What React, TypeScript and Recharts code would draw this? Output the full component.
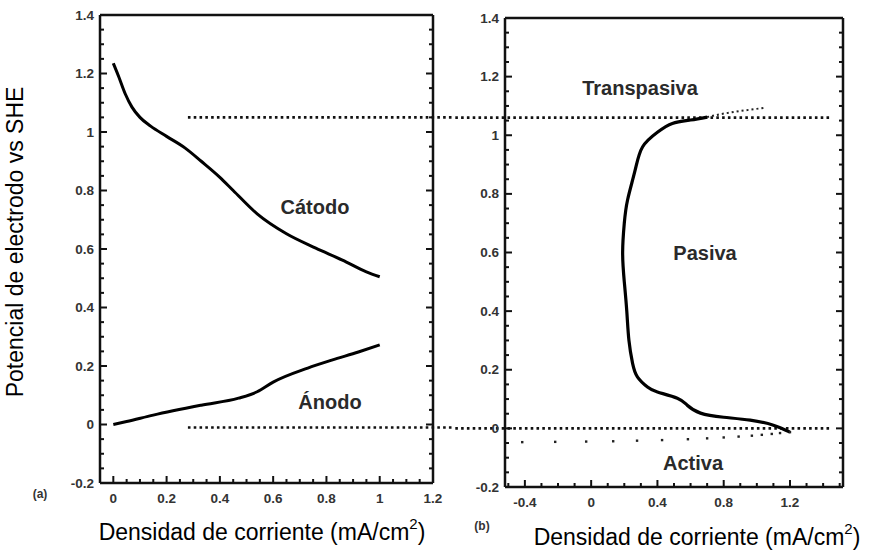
import React from "react";
import {
  ComposedChart,
  Line,
  Scatter,
  XAxis,
  YAxis,
  ReferenceLine,
} from "recharts";

// (a) cathodic and anodic branches, current density (mA/cm2) vs potential (V)
const cathodeI = [0, 0.02, 0.045, 0.07, 0.1, 0.14, 0.2, 0.27, 0.33, 0.4, 0.45, 0.54, 0.65, 0.76, 0.86, 0.95, 1.0];
const cathodeE = [1.235, 1.19, 1.13, 1.085, 1.05, 1.02, 0.985, 0.945, 0.9, 0.845, 0.8, 0.72, 0.652, 0.603, 0.562, 0.522, 0.505];
const anodeI = [0, 0.05, 0.15, 0.33, 0.47, 0.54, 0.6, 0.73, 0.82, 0.92, 1.0];
const anodeE = [0, 0.01, 0.032, 0.066, 0.09, 0.112, 0.145, 0.193, 0.22, 0.248, 0.272];

// (b) anodic scan through active, passive and transpassive regions
const passiveI = [1.2, 1.1, 0.96, 0.8, 0.66, 0.58, 0.52, 0.4, 0.34, 0.28, 0.25, 0.228, 0.215, 0.2, 0.19, 0.2, 0.22, 0.265, 0.31, 0.4, 0.49, 0.6, 0.7];
const passiveE = [-0.013, 0.011, 0.028, 0.038, 0.052, 0.079, 0.103, 0.124, 0.141, 0.175, 0.222, 0.3, 0.4, 0.5, 0.6, 0.7, 0.78, 0.88, 0.96, 1.01, 1.04, 1.052, 1.062];
const transI = [0.7, 0.78, 0.9, 1.04];
const transE = [1.062, 1.072, 1.083, 1.093];
const returnI = [-0.416, -0.217, -0.03, 0.133, 0.277, 0.428, 0.584, 0.7, 0.8, 0.89, 0.97, 1.03, 1.09, 1.14, 1.2];
const returnE = [-0.047, -0.046, -0.045, -0.044, -0.042, -0.04, -0.037, -0.034, -0.031, -0.028, -0.025, -0.022, -0.019, -0.016, -0.013];

// dotted boundaries between regions
const passBoundLeft = [1.05, -0.01];
const passBoundRight = [1.06, 0];

const leftXMajor = [0, 0.2, 0.4, 0.6, 0.8, 1, 1.2];
const leftYMajor = [-0.2, 0, 0.2, 0.4, 0.6, 0.8, 1, 1.2, 1.4];
const rightXMajor = [-0.4, 0, 0.4, 0.8, 1.2];
const rightYMajor = [-0.2, 0, 0.2, 0.4, 0.6, 0.8, 1, 1.2, 1.4];

const zip = (xs: number[], ys: number[]) => xs.map((i, k) => ({ i, e: ys[k] }));

// minor ticks between (and just beyond) the labelled ones
const subdivide = (majors: number[], parts: number, lo: number, hi: number) => {
  const step = (majors[1] - majors[0]) / parts;
  const out: number[] = [];
  for (let v = majors[0] - step * 20; v <= hi + 1e-9; v += step) {
    if (v >= lo - 1e-9) out.push(Math.round(v * 1000) / 1000);
  }
  return out;
};

const near = (v: number, list: number[]) => list.some((m) => Math.abs(m - v) < 1e-6);
const fmt = (v: number) => String(Math.round(v * 10) / 10);

const FONT = "'Liberation Sans', Arial, sans-serif";
const INK = "#111";

// inward tick marks; only the bottom and left axes carry labels
function makeTick(side: "bottom" | "top" | "left" | "right", majors: number[]) {
  return (props: any) => {
    const { x, y, payload } = props;
    const major = near(payload.value, majors);
    const len = major ? 7 : 4;
    let d = "";
    let label = null;
    if (side === "bottom") {
      d = `M${x},${y}V${y - len}`;
      if (major)
        label = (
          <text x={x} y={y + 15} textAnchor="middle" dominantBaseline="central" fontSize={13.5} fontWeight="bold" fill="#333" fontFamily={FONT}>
            {fmt(payload.value)}
          </text>
        );
    } else if (side === "top") {
      d = `M${x},${y}V${y + len}`;
    } else if (side === "left") {
      d = `M${x},${y}H${x + len}`;
      if (major)
        label = (
          <text x={x - 6} y={y} textAnchor="end" dominantBaseline="central" fontSize={13.5} fontWeight="bold" fill="#333" fontFamily={FONT}>
            {fmt(payload.value)}
          </text>
        );
    } else {
      d = `M${x},${y}H${x - len}`;
    }
    return (
      <g>
        <path d={d} stroke={INK} strokeWidth={2} fill="none" />
        {label}
      </g>
    );
  };
}

const dotted = { stroke: INK, strokeWidth: 2.6, strokeDasharray: "2.6 3.2" };
const frame = { stroke: INK, strokeWidth: 2.5, ifOverflow: "visible" as const };

function LeftPanel() {
  const xDom: [number, number] = [-0.05, 1.2];
  const yDom: [number, number] = [-0.2, 1.4];
  const xTicks = subdivide(leftXMajor, 4, 0, 1.2);
  const yTicks = subdivide(leftYMajor, 4, -0.2, 1.4);
  return (
    <ComposedChart width={470} height={554} margin={{ top: 14, right: 36, bottom: 70, left: 0 }}>
      <XAxis dataKey="i" type="number" domain={xDom} allowDataOverflow ticks={xTicks} interval={0}
        tickSize={0} tickMargin={0} height={1} axisLine={false} tick={makeTick("bottom", leftXMajor)} />
      <XAxis xAxisId="t" orientation="top" type="number" domain={xDom} allowDataOverflow ticks={xTicks} interval={0}
        tickSize={0} tickMargin={0} height={1} axisLine={false} tick={makeTick("top", leftXMajor)} />
      <YAxis dataKey="e" type="number" domain={yDom} allowDataOverflow ticks={yTicks} interval={0}
        tickSize={0} tickMargin={0} width={100} axisLine={false} tick={makeTick("left", leftYMajor)} />
      <YAxis yAxisId="r" orientation="right" type="number" domain={yDom} allowDataOverflow ticks={yTicks} interval={0}
        tickSize={0} tickMargin={0} width={1} axisLine={false} tick={makeTick("right", leftYMajor)} />
      <ReferenceLine x={xDom[0]} {...frame} />
      <ReferenceLine x={xDom[1]} {...frame} />
      <ReferenceLine y={yDom[0]} {...frame} />
      <ReferenceLine y={yDom[1]} {...frame} />
      {passBoundLeft.map((v) => (
        <ReferenceLine key={v} ifOverflow="visible" segment={[{ x: 0.28, y: v }, { x: 1.28, y: v }]} {...dotted} />
      ))}
      <Line data={zip(cathodeI, cathodeE)} dataKey="e" type="monotone" stroke="#000" strokeWidth={3} dot={false} isAnimationActive={false} />
      <Line data={zip(anodeI, anodeE)} dataKey="e" type="monotone" stroke="#000" strokeWidth={3} dot={false} isAnimationActive={false} />
    </ComposedChart>
  );
}

function RightPanel() {
  const xDom: [number, number] = [-0.52, 1.52];
  const yDom: [number, number] = [-0.2, 1.4];
  const xTicks = subdivide(rightXMajor, 4, -0.5, 1.5);
  const yTicks = subdivide(rightYMajor, 4, -0.2, 1.4);
  return (
    <ComposedChart width={429} height={554} margin={{ top: 17, right: 25, bottom: 66, left: 0 }}>
      <XAxis dataKey="i" type="number" domain={xDom} allowDataOverflow ticks={xTicks} interval={0}
        tickSize={0} tickMargin={0} height={1} axisLine={false} tick={makeTick("bottom", rightXMajor)} />
      <XAxis xAxisId="t" orientation="top" type="number" domain={xDom} allowDataOverflow ticks={xTicks} interval={0}
        tickSize={0} tickMargin={0} height={1} axisLine={false} tick={makeTick("top", rightXMajor)} />
      <YAxis dataKey="e" type="number" domain={yDom} allowDataOverflow ticks={yTicks} interval={0}
        tickSize={0} tickMargin={0} width={65} axisLine={false} tick={makeTick("left", rightYMajor)} />
      <YAxis yAxisId="r" orientation="right" type="number" domain={yDom} allowDataOverflow ticks={yTicks} interval={0}
        tickSize={0} tickMargin={0} width={1} axisLine={false} tick={makeTick("right", rightYMajor)} />
      <ReferenceLine x={xDom[0]} {...frame} />
      <ReferenceLine x={xDom[1]} {...frame} />
      <ReferenceLine y={yDom[0]} {...frame} />
      <ReferenceLine y={yDom[1]} {...frame} />
      {passBoundRight.map((v) => (
        <ReferenceLine key={v} ifOverflow="visible" segment={[{ x: -0.82, y: v }, { x: 1.44, y: v }]} {...dotted} />
      ))}
      <Line data={zip(passiveI, passiveE)} dataKey="e" type="natural" stroke="#000" strokeWidth={3.2} dot={false} isAnimationActive={false} />
      <Line data={zip(transI, transE)} dataKey="e" type="linear" stroke="#222" strokeWidth={2} strokeDasharray="2 3" dot={false} isAnimationActive={false} />
      <Scatter data={zip(returnI, returnE)} dataKey="e" isAnimationActive={false}
        shape={(p: any) => <rect x={p.cx - 1.2} y={p.cy - 1.2} width={2.4} height={2.4} fill="#222" />} />
    </ComposedChart>
  );
}

export default function App() {
  const label = { fontFamily: FONT, fontWeight: "bold" as const, fill: "#2a2a2a", fontSize: 20 };
  const title = { fontFamily: FONT, fontSize: 23, fill: "#000" };
  return (
    <div style={{ position: "absolute", left: 0, top: 0, width: 869, height: 554, background: "#fff" }}>
      <div style={{ position: "absolute", left: 0, top: 0 }}>
        <LeftPanel />
      </div>
      <div style={{ position: "absolute", left: 440, top: 0 }}>
        <RightPanel />
      </div>
      <svg width={869} height={554} style={{ position: "absolute", left: 0, top: 0, pointerEvents: "none" }}>
        <text x={315} y={207} textAnchor="middle" dominantBaseline="central" {...label}>Cátodo</text>
        <text x={330} y={402} textAnchor="middle" dominantBaseline="central" {...label}>Ánodo</text>
        <text x={640} y={88} textAnchor="middle" dominantBaseline="central" {...label}>Transpasiva</text>
        <text x={705} y={253} textAnchor="middle" dominantBaseline="central" {...label}>Pasiva</text>
        <text x={693} y={463} textAnchor="middle" dominantBaseline="central" {...label}>Activa</text>
        <text x={40} y={494} textAnchor="middle" dominantBaseline="central" fontFamily={FONT} fontWeight="bold" fontSize={12} fill="#333">(a)</text>
        <text x={482} y={526} textAnchor="middle" dominantBaseline="central" fontFamily={FONT} fontWeight="bold" fontSize={12} fill="#333">(b)</text>
        <text transform="translate(15,242) rotate(-90)" textAnchor="middle" dominantBaseline="central" {...title}>
          Potencial de electrodo vs SHE
        </text>
        <text x={262} y={532} textAnchor="middle" dominantBaseline="central" {...title}>
          Densidad de corriente (mA/cm<tspan dy={-9} fontSize={15}>2</tspan><tspan dy={9}>)</tspan>
        </text>
        <text x={697} y={537} textAnchor="middle" dominantBaseline="central" {...title}>
          Densidad de corriente (mA/cm<tspan dy={-9} fontSize={15}>2</tspan><tspan dy={9}>)</tspan>
        </text>
      </svg>
    </div>
  );
}
